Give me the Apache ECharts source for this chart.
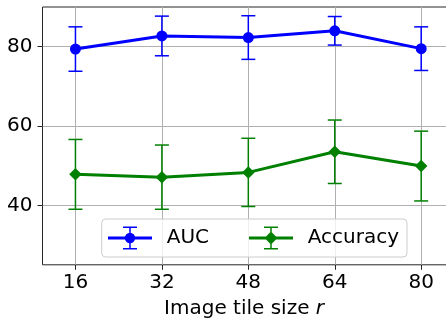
<!DOCTYPE html>
<html>
<head>
<meta charset="utf-8">
<script src="https://cdn.jsdelivr.net/npm/echarts@6/dist/echarts.min.js"></script>
<style>
  html, body { margin: 0; padding: 0; background: #fff; overflow: hidden; }
  #chart { width: 446px; height: 326px; }
</style>
</head>
<body>
<div id="chart"></div>
<script>
// ---- data ----
const sizes = [16, 32, 48, 64, 80];
const aucMean = [79.4, 82.7, 82.3, 84.0, 79.5];
const aucErr = [5.6, 5.0, 5.5, 3.6, 5.5];
const accMean = [47.8, 47.1, 48.3, 53.5, 49.9];
const accErr = [8.8, 8.1, 8.6, 8.0, 8.8];
const yTicks = [40, 60, 80];
const xTicks = [16, 32, 48, 64, 80];

const BLUE = '#0000ff';
const GREEN = '#008000';
const FONT = 'DejaVu Sans';
const FS = 20;

const barPath = 'M0 10 H44 V13 H0 Z M21.25 0 H22.75 V23 H21.25 Z M15 0 H29 V1.5 H15 Z M15 21.5 H29 V23 H15 Z ';
const aucIcon = 'path://' + barPath + 'M16.8 11.5 A5.2 5.2 0 1 1 27.2 11.5 A5.2 5.2 0 1 1 16.8 11.5 Z';
const accIcon = 'path://' + barPath + 'M22 5 L28.5 11.5 L22 18 L15.5 11.5 Z';

function errSeries(name, means, errs, color) {
  return {
    type: 'custom',
    name: name + ' error',
    z: 2,
    silent: true,
    animation: false,
    itemStyle: { color: color },
    data: sizes.map((s, i) => [s, means[i] - errs[i], means[i] + errs[i]]),
    encode: { x: 0, y: [1, 2] },
    renderItem: function (params, api) {
      const x = api.value(0);
      const lo = api.coord([x, api.value(1)]);
      const hi = api.coord([x, api.value(2)]);
      const cw = 7;
      const st = { stroke: color, lineWidth: 1.5 };
      return {
        type: 'group',
        children: [
          { type: 'line', shape: { x1: lo[0], y1: lo[1], x2: hi[0], y2: hi[1] }, style: st },
          { type: 'line', shape: { x1: lo[0] - cw, y1: lo[1], x2: lo[0] + cw, y2: lo[1] }, style: st },
          { type: 'line', shape: { x1: hi[0] - cw, y1: hi[1], x2: hi[0] + cw, y2: hi[1] }, style: st }
        ]
      };
    }
  };
}

function lineSeries(name, means, color, symbol, size) {
  return {
    type: 'line',
    name: name,
    z: 3,
    color: color,
    data: sizes.map((s, i) => [s, means[i]]),
    symbol: symbol,
    symbolSize: size,
    showAllSymbol: true,
    lineStyle: { color: color, width: 3 },
    itemStyle: { color: color, borderWidth: 0 },
    emphasis: { disabled: true },
    animation: false
  };
}

const chart = echarts.init(document.getElementById('chart'), null, { renderer: 'canvas' });
chart.setOption({
  animation: false,
  textStyle: { fontFamily: FONT },
  grid: {
    left: 42.5, top: 7, width: 411.1, height: 257.8,
    containLabel: false,
    outerBoundsMode: 'none',
    show: true, borderColor: '#262626', borderWidth: 1, backgroundColor: 'transparent'
  },
  legend: {
    data: [{ name: 'AUC', icon: aucIcon }, { name: 'Accuracy', icon: accIcon }],
    left: 101.7,
    top: 219,
    orient: 'horizontal',
    itemWidth: 44,
    itemHeight: 23,
    itemGap: 40,
    padding: [7.5, 8, 7.5, 6.3],
    backgroundColor: 'rgba(255,255,255,0.8)',
    borderColor: '#cccccc',
    borderWidth: 1,
    borderRadius: 4,
    itemStyle: { borderWidth: 0 },
    textStyle: { fontFamily: FONT, fontSize: FS, color: '#000', padding: [0, 0, 0, 9.7] },
    selectedMode: false,
    z: 10
  },
  xAxis: {
    type: 'value',
    min: 9.9,
    max: 86,
    axisLine: { show: false },
    axisTick: { show: true, length: 5, inside: false, customValues: xTicks, lineStyle: { color: '#262626', width: 1 } },
    axisLabel: { customValues: xTicks, fontFamily: FONT, fontSize: FS, color: '#000', margin: 8 },
    splitLine: { show: true, lineStyle: { color: '#b0b0b0', width: 1 } },
    name: 'Image tile size {i|r}',
    nameLocation: 'middle',
    nameGap: 34,
    nameTextStyle: {
      fontFamily: FONT, fontSize: FS, color: '#000',
      padding: [0, 8, 0, 0],
      rich: { i: { fontFamily: FONT, fontSize: FS, fontStyle: 'italic', color: '#000' } }
    }
  },
  yAxis: {
    type: 'value',
    min: 25,
    max: 90,
    axisLine: { show: false },
    axisTick: { show: true, length: 5, inside: false, customValues: yTicks, lineStyle: { color: '#262626', width: 1 } },
    axisLabel: { customValues: yTicks, fontFamily: FONT, fontSize: FS, color: '#000', margin: 10 },
    splitLine: { show: true, lineStyle: { color: '#b0b0b0', width: 1 } }
  },
  series: [
    errSeries('AUC', aucMean, aucErr, BLUE),
    errSeries('Accuracy', accMean, accErr, GREEN),
    lineSeries('AUC', aucMean, BLUE, 'circle', 11),
    lineSeries('Accuracy', accMean, GREEN, 'diamond', 12.5)
  ]
});
</script>
</body>
</html>
